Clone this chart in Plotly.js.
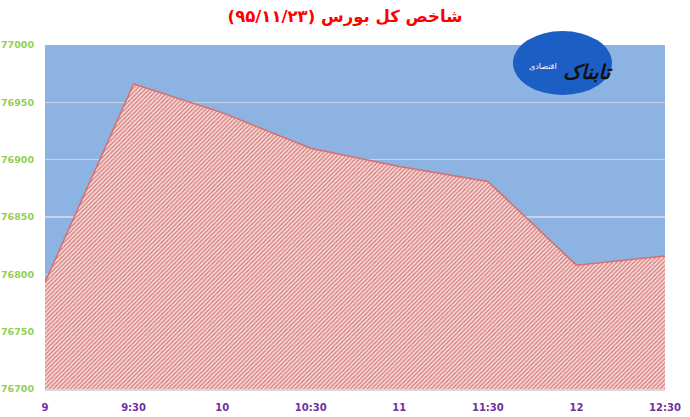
<!DOCTYPE html>
<html><head><meta charset="utf-8">
<script src="https://cdn.plot.ly/plotly-3.0.1.min.js"></script>
<style>html,body{margin:0;padding:0;background:#fff;}#chart{width:690px;height:417px;}</style>
</head><body><div id="chart"></div>
<script>
const times = ["9", "9:30", "10", "10:30", "11", "11:30", "12", "12:30"];
const indexValues = [76793, 76966, 76941, 76910, 76894, 76881, 76808, 76816];
const yTicks = [76700, 76750, 76800, 76850, 76900, 76950, 77000];
const titleText = "شاخص کل بورس (۹۵/۱۱/۲۳)";
const logoText = "تابناک";
const logoSub = "اقتصادی";

const trace = {
  x: times, y: indexValues, type: 'scatter', mode: 'lines',
  fill: 'tozeroy',
  line: {color: '#D4706E', width: 1.5},
  fillcolor: '#F2C6C5',
  fillpattern: {shape: '/', fgcolor: '#D77F7D', bgcolor: '#F6DCDB', size: 3, solidity: 0.45},
  hoverinfo: 'skip'
};

const layout = {
  width: 690, height: 417,
  margin: {l: 45, r: 25, t: 45, b: 28},
  paper_bgcolor: '#ffffff', plot_bgcolor: '#8DB3E2',
  showlegend: false,
  title: {text: titleText, x: 0.5, xanchor: 'center', y: 0.962, yanchor: 'middle',
          font: {family: 'DejaVu Sans, sans-serif', size: 16.5, color: '#FF0000', weight: 'bold'}},
  xaxis: {type: 'category', range: [0, 7], showgrid: false, zeroline: false,
          showline: true, linecolor: '#D9D9D9', linewidth: 1.5,
          ticks: '', ticklabelstandoff: 8,
          tickfont: {family: 'DejaVu Sans, sans-serif', size: 10, color: '#7030A0', weight: 'bold'}},
  yaxis: {range: [76700, 77000], tickvals: yTicks, ticktext: yTicks.map(String),
          showgrid: true, gridcolor: '#C6D4EA', gridwidth: 1.3, zeroline: false,
          showline: false, ticks: '', ticklabelstandoff: 10,
          tickfont: {family: 'DejaVu Sans, sans-serif', size: 9.5, color: '#92D050', weight: 'bold'}},
  shapes: [
    {type: 'circle', xref: 'paper', yref: 'paper', layer: 'above',
     x0: (513-45)/620, x1: (612-45)/620, y0: (389-95)/344, y1: (389-31)/344,
     fillcolor: '#1C5FC4', line: {width: 0}}
  ],
  annotations: [
    {text: '<b><i>' + logoText + '</i></b>', xref: 'paper', yref: 'paper', showarrow: false,
     x: (588-45)/620, y: (389-72)/344, xanchor: 'center', yanchor: 'middle',
     font: {family: 'DejaVu Sans, sans-serif', size: 20, color: '#111111'}},
    {text: logoSub, xref: 'paper', yref: 'paper', showarrow: false,
     x: (543-45)/620, y: (389-66)/344, xanchor: 'center', yanchor: 'middle',
     font: {family: 'DejaVu Sans, sans-serif', size: 8, color: '#ffffff'}}
  ]
};

Plotly.newPlot('chart', [trace], layout, {displayModeBar: false, staticPlot: true});
</script></body></html>
